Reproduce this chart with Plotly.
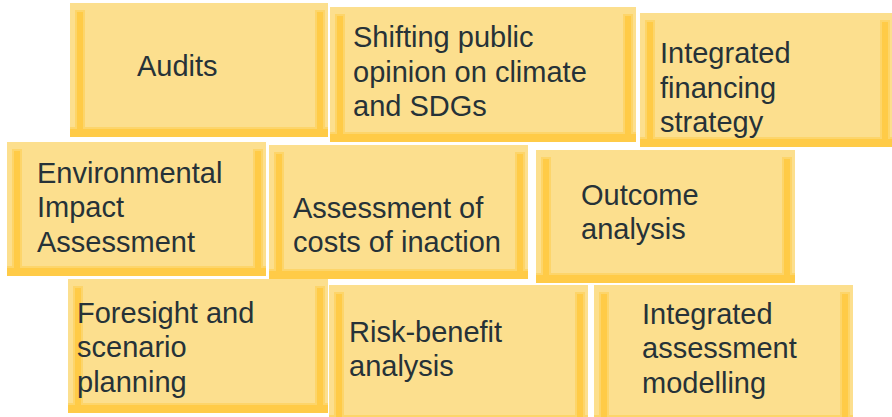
import plotly.graph_objects as go

# ---- data: the labels shown in the boxes (one entry per box, lines separated by \n)
labels = [
    "Audits",
    "Shifting public\nopinion on climate\nand SDGs",
    "Integrated\nfinancing\nstrategy",
    "Environmental\nImpact\nAssessment",
    "Assessment of\ncosts of inaction",
    "Outcome\nanalysis",
    "Foresight and\nscenario\nplanning",
    "Risk-benefit\nanalysis",
    "Integrated\nassessment\nmodelling",
]

# ---- layout (pixel-like coordinates, y downwards)
boxes = [
    (70, 3, 328, 137),
    (330, 7, 636, 142),
    (640, 13, 893, 147),
    (7, 142, 266, 276),
    (269, 145, 528, 279),
    (536, 150, 795, 283),
    (68, 279, 328, 413),
    (329, 285, 588, 425),
    (594, 285, 853, 425),
]
text_x = [136, 352, 659, 36, 292, 580, 76, 348, 641]
first_baseline = [76, 47.5, 63.5, 183, 218, 205, 323, 342, 324]
LINE_STEP = 34.5
FONT_SIZE = 29

FILL = "#FCDF8E"
STRIPE = "#FFCB47"
HALO = "#FDD56A"
TEXT = "#263238"

W, H = 892, 417
fig = go.Figure()
fig.add_trace(go.Scatter(x=[0, W], y=[0, H], mode="markers",
                         marker=dict(opacity=0), hoverinfo="skip", showlegend=False))

shapes = []
def rect(x0, y0, x1, y1, color):
    shapes.append(dict(type="rect", xref="x", yref="y", x0=x0, y0=y0, x1=x1, y1=y1,
                       fillcolor=color, line=dict(width=0), layer="below"))

for (x0, y0, x1, y1) in boxes:
    rect(x0, y0, x1, y1, FILL)
    # halos
    rect(x0 + 5, y0 + 7, x0 + 15, y1, HALO)
    rect(x1 - 13, y0 + 7, x1 - 3, y1, HALO)
    rect(x0, y1 - 10, x1, y1, HALO)
    # cores
    rect(x0 + 7, y0 + 9, x0 + 13, y1, STRIPE)
    rect(x1 - 11, y0 + 9, x1 - 5, y1, STRIPE)
    rect(x0, y1 - 8, x1, y1, STRIPE)

annotations = []
for lab, tx, b0 in zip(labels, text_x, first_baseline):
    for i, line in enumerate(lab.split("\n")):
        base = b0 + i * LINE_STEP
        annotations.append(dict(
            x=tx, y=base - 0.36 * FONT_SIZE, xref="x", yref="y",
            text=line, showarrow=False, xanchor="left", yanchor="middle",
            font=dict(family="Liberation Sans, Arial, sans-serif", size=FONT_SIZE, color=TEXT),
            borderpad=0,
        ))

fig.update_layout(
    width=W, height=H,
    margin=dict(l=0, r=0, t=0, b=0),
    paper_bgcolor="white", plot_bgcolor="white",
    xaxis=dict(range=[0, W], visible=False, fixedrange=True),
    yaxis=dict(range=[H, 0], visible=False, fixedrange=True),
    shapes=shapes, annotations=annotations, showlegend=False,
)
fig.write_html("out.html", config={"displayModeBar": False})

# remove the default page margin so the figure sits at (0, 0)
with open("out.html", encoding="utf-8") as f:
    html = f.read()
html = html.replace("<head>", "<head><style>html,body{margin:0;padding:0;overflow:hidden;}</style>", 1)
with open("out.html", "w", encoding="utf-8") as f:
    f.write(html)
